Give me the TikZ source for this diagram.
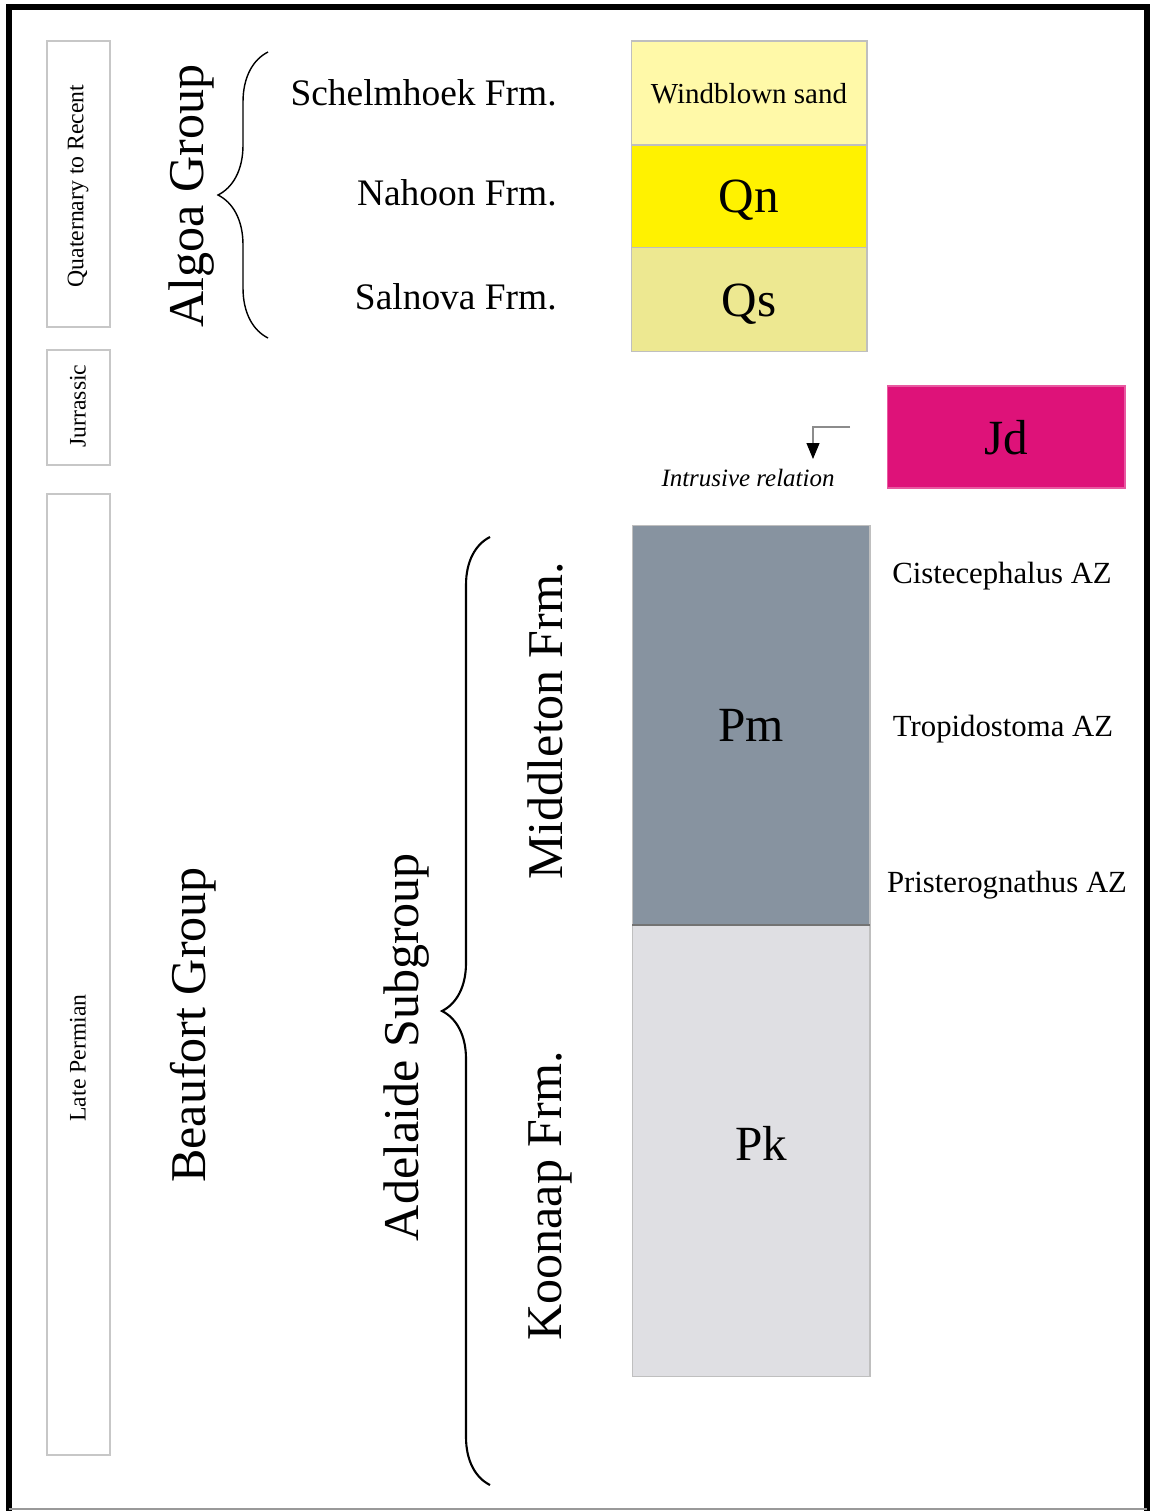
\documentclass[tikz,border=0pt]{standalone}
\usepackage{fontspec}
\setmainfont{Liberation Serif}
\usepackage{xcolor}
\usepackage{tikz}
\usetikzlibrary{arrows.meta, positioning, decorations.pathreplacing}

\definecolor{windsand}{HTML}{FFF9A8}
\definecolor{nahoon}{HTML}{FFF200}
\definecolor{salnova}{HTML}{EDE891}
\definecolor{dolerite}{HTML}{DE1279}
\definecolor{middleton}{HTML}{8793A0}
\definecolor{koonaap}{HTML}{DFDFE3}

\begin{document}
\begin{tikzpicture}[
  x=0.02cm, y=-0.02cm,
  erabox/.style={draw=black!22, line width=0.7pt, minimum width=1.26cm, inner sep=0},
  eratext/.style={rotate=90, font=\fontsize{13.5}{16}\selectfont},
  bigname/.style={rotate=90, font=\fontsize{28.5}{32}\selectfont, inner sep=0},
  frmname/.style={anchor=east, font=\fontsize{21.3}{24}\selectfont, inner sep=0},
  unit/.style={draw=black!25, line width=0.6pt, minimum width=4.72cm, inner sep=0, outer sep=0, text depth=0pt, font=\fontsize{28}{32}\selectfont},
  zone/.style={font=\fontsize{17.5}{20}\selectfont, inner sep=0},
  grpbrace/.style={decorate, decoration={brace, amplitude=1cm}},
  arr/.style={-{Triangle[length=3.2mm, width=2.6mm, black]}, draw=black!45, line width=0.6pt}
]
  % frame
  \useasboundingbox (0,0) rectangle (1150,1511);
  \draw[line width=3pt] (9,1511) -- (9,7) -- (1147,7) -- (1147,1511);
  \draw[black!40, line width=1pt] (9,1509) -- (1147,1509);

  % era column
  \node[erabox, minimum height=5.72cm] (quat) at (78.5,184) {};
  \node[eratext] (quatlbl) at (78,186) {Quaternary to Recent};
  \node[erabox, minimum height=2.3cm] (jur) at (78.5,407.5) {};
  \node[eratext] (jurlbl) at (78,406) {Jurrassic};
  \node[erabox, minimum height=19.22cm] (perm) at (78.5,974.5) {};
  \node[eratext] (permlbl) at (78,1058) {Late Permian};

  % groups
  \node[bigname] (algoa) at (192,196) {Algoa Group};
  \node[bigname] (beaufort) at (193,1025) {Beaufort Group};
  \node[bigname] (adelaide) at (407,1047) {Adelaide Subgroup};
  \node[bigname] (middle) at (545,721) {Middleton Frm.};
  \node[bigname] (koon) at (550,1196) {Koonaap Frm.};

  \coordinate (algoabot) at (268,338);
  \coordinate (algoatop) at (268,52);
  \draw[grpbrace, line width=0.8pt] (algoabot) -- (algoatop);
  \coordinate (adelbot) at (490,1485);
  \coordinate (adeltop) at (490,537);
  \draw[grpbrace, decoration={amplitude=0.96cm}, line width=1.2pt] (adelbot) -- (adeltop);

  % formations (Algoa)
  \node[frmname] (schel) at (557,93) {Schelmhoek Frm.};
  \node[frmname] (nahoonlbl) at (557,193) {Nahoon Frm.};
  \node[frmname] (salnovalbl) at (557,297) {Salnova Frm.};

  % lithology column
  \node[unit, fill=windsand, minimum height=2.08cm, font=\fontsize{16.5}{19}\selectfont] (wind) at (749,93) {Windblown sand};
  \node[unit, fill=nahoon, minimum height=2.06cm, below=0cm of wind] (qn) {Qn};
  \node[unit, fill=salnova, minimum height=2.08cm, below=0cm of qn] (qs) {Qs};
  \node[unit, fill=dolerite, draw=dolerite!70, minimum width=4.76cm, minimum height=2.04cm] (jd) at (1006,437) {Jd};
  \node[unit, fill=middleton, minimum width=4.76cm, minimum height=8cm] (pm) at (751,725) {Pm};
  \node[unit, fill=koonaap, minimum width=4.76cm, minimum height=9.04cm, below=0cm of pm] (pk) {\raisebox{0.28cm}{\hspace{0.4cm}Pk}};
  \draw[black!55, line width=1pt] (pm.south west) -- (pm.south east);

  % intrusive relation
  \coordinate (intr) at (850,427);
  \coordinate (intrend) at (813,459);
  \draw[arr] (intr) -| (intrend);
  \node[font=\itshape\fontsize{14.2}{17}\selectfont, inner sep=0] (intrlbl) at (748,478) {Intrusive relation};

  % assemblage zones
  \node[zone] (cist) at (1002,576) {Cistecephalus AZ};
  \node[zone] (trop) at (1003,729) {Tropidostoma AZ};
  \node[zone] (prist) at (1007,885) {Pristerognathus AZ};
\end{tikzpicture}
\end{document}
